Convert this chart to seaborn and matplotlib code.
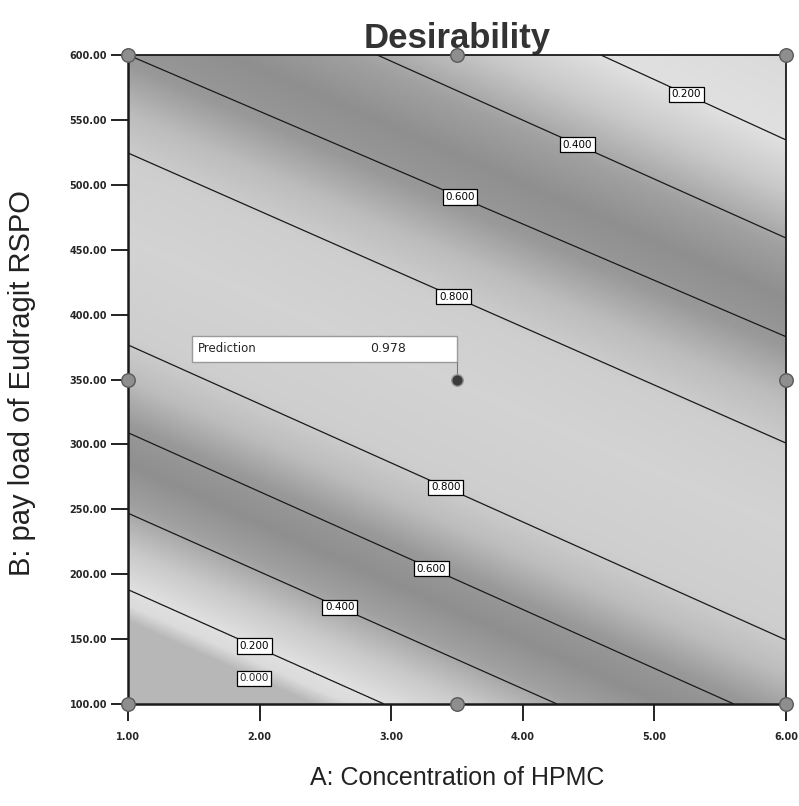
import numpy as np
import matplotlib
matplotlib.use("Agg")
import matplotlib.pyplot as plt
import seaborn as sns
import pandas as pd
from matplotlib.colors import LinearSegmentedColormap
from matplotlib.patches import Rectangle

# ---- data ----
# desirability levels along iso-lines, and the B value where each iso-line meets A=1 and A=6
knot_levels = [0.0, 0.0, 0.2, 0.4, 0.6, 0.8, 0.985, 0.8, 0.6, 0.4, 0.2, 0.0]
b_at_a_min = [-400, 163, 188, 247, 309, 376.6, 458, 524.5, 600, 686, 767, 880]
b_at_a_max = [-600, -63, -38.5, 21.5, 82, 149.3, 236, 301, 383, 459, 534.5, 650]

contour_levels = [0.2, 0.4, 0.6, 0.8]
label_points_a = [5.25, 4.437, 3.555, 3.502, 3.441, 3.342, 2.635, 1.989]
label_points_b = [571.5, 536, 498.3, 419.7, 272.6, 212.5, 180.1, 150.8]
zero_label_a = 1.958

design_a = [1.0, 3.5, 6.0, 1.0, 6.0, 1.0, 3.5, 6.0]
design_b = [100, 100, 100, 350, 350, 600, 600, 600]
pred_a = 3.5
pred_b = 350
pred_value = 0.978

x_ticks = [1.0, 2.0, 3.0, 4.0, 5.0, 6.0]
y_ticks = [100, 150, 200, 250, 300, 350, 400, 450, 500, 550, 600]
a_range = (1.0, 6.0)
b_range = (100, 600)

# ---- build surface ----
A = np.linspace(a_range[0], a_range[1], 500)
B = np.linspace(b_range[0], b_range[1], 500)
lo = np.array(b_at_a_min, dtype=float)
hi = np.array(b_at_a_max, dtype=float)
D = np.zeros((B.size, A.size))
for j, a in enumerate(A):
    t = (a - a_range[0]) / (a_range[1] - a_range[0])
    knots = lo + (hi - lo) * t
    D[:, j] = np.interp(B, knots, knot_levels)

sns.set_theme(style="white")
plt.rcParams["font.family"] = ["DejaVu Sans"]

fig = plt.figure(figsize=(7.99, 8.06), dpi=100)
ax = fig.add_axes([128 / 799, 1 - 704 / 806, 658 / 799, 649 / 806])

gray_pts = [(0.0, 0.72), (0.10, 0.86), (0.20, 0.88), (0.30, 0.79), (0.42, 0.63),
            (0.52, 0.56), (0.62, 0.60), (0.72, 0.74), (0.82, 0.81), (1.0, 0.83)]
cmap = LinearSegmentedColormap.from_list(
    "desir_gray", [(p, (g, g, g)) for p, g in gray_pts])

ax.imshow(D, extent=[a_range[0], a_range[1], b_range[0], b_range[1]], origin="lower",
          cmap=cmap, vmin=0, vmax=1, aspect="auto", interpolation="bilinear", zorder=0)

cs = ax.contour(A, B, D, levels=contour_levels, colors="#1a1a1a", linewidths=0.9, zorder=2)
texts = ax.clabel(cs, fmt="%.3f", fontsize=7.5, inline=False,
                  manual=list(zip(label_points_a, label_points_b)))
for t in texts:
    t.set_rotation(0)
    t.set_color("black")
    t.set_bbox(dict(boxstyle="square,pad=0.25", fc="white", ec="black", lw=0.9))
    t.set_zorder(5)

# zero-level label sits on the (hidden) zero iso-line
tz = (zero_label_a - a_range[0]) / (a_range[1] - a_range[0])
zero_b = b_at_a_min[1] + (b_at_a_max[1] - b_at_a_min[1]) * tz
ax.text(zero_label_a, zero_b, "%.3f" % knot_levels[1], fontsize=7.5, ha="center", va="center",
        zorder=5, bbox=dict(boxstyle="square,pad=0.25", fc="white", ec="black", lw=0.9))

# design points
df = pd.DataFrame({"A": design_a, "B": design_b})
sns.scatterplot(data=df, x="A", y="B", ax=ax, s=95, color="#8e8e8e",
                edgecolor="#5a5a5a", linewidth=1.0, zorder=6, clip_on=False, legend=False)
ax.scatter([pred_a], [pred_b], s=70, color="#3c3c3c", edgecolor="#9a9a9a",
           linewidth=1.0, zorder=7, clip_on=False)

# prediction box
box_left = pred_a - 2.01
box_bottom = pred_b + 13.5
box_h = 20
ax.add_patch(Rectangle((box_left, box_bottom), pred_a - box_left, box_h,
                       fc="white", ec="#9a9a9a", lw=1.0, zorder=6))
ax.plot([pred_a, pred_a], [pred_b + 4, box_bottom], color="#777777", lw=0.8, zorder=6)
ax.text(box_left + 0.04, box_bottom + box_h / 2, "Prediction", fontsize=8.5,
        ha="left", va="center", zorder=7)
ax.text(box_left + 1.35, box_bottom + box_h / 2, "%.3f" % pred_value, fontsize=9,
        ha="left", va="center", zorder=7)

ax.set_xlim(*a_range)
ax.set_ylim(*b_range)
ax.set_xticks(x_ticks)
ax.set_yticks(y_ticks)
ax.set_xticklabels(["%.2f" % v for v in x_ticks], fontsize=7, fontweight="bold")
ax.set_yticklabels(["%.2f" % v for v in y_ticks], fontsize=7, fontweight="bold")
ax.tick_params(axis="both", direction="out", length=12, width=1.4, color="#222222",
               bottom=True, left=True, pad=3)
ax.tick_params(axis="x", pad=8)

for side, sp in ax.spines.items():
    sp.set_visible(True)
    sp.set_color("#1a1a1a")
    sp.set_linewidth(1.8 if side in ("left", "bottom") else 1.3)
    sp.set_zorder(4)

ax.set_title("Desirability", fontsize=25, fontweight="bold", color="#333333",
             family="Liberation Sans", pad=5)
ax.set_xlabel("A: Concentration of HPMC", fontsize=18, family="Liberation Sans",
              color="#222222")
ax.set_ylabel("B: pay load of Eudragit RSPO", fontsize=21, family="Liberation Sans",
              color="#222222")
ax.xaxis.set_label_coords(0.5, -(766 - 704) / 649)
ax.yaxis.set_label_coords(-(128 - 36) / 658, 0.495)

fig.savefig("out.png", dpi=100, facecolor="white")
